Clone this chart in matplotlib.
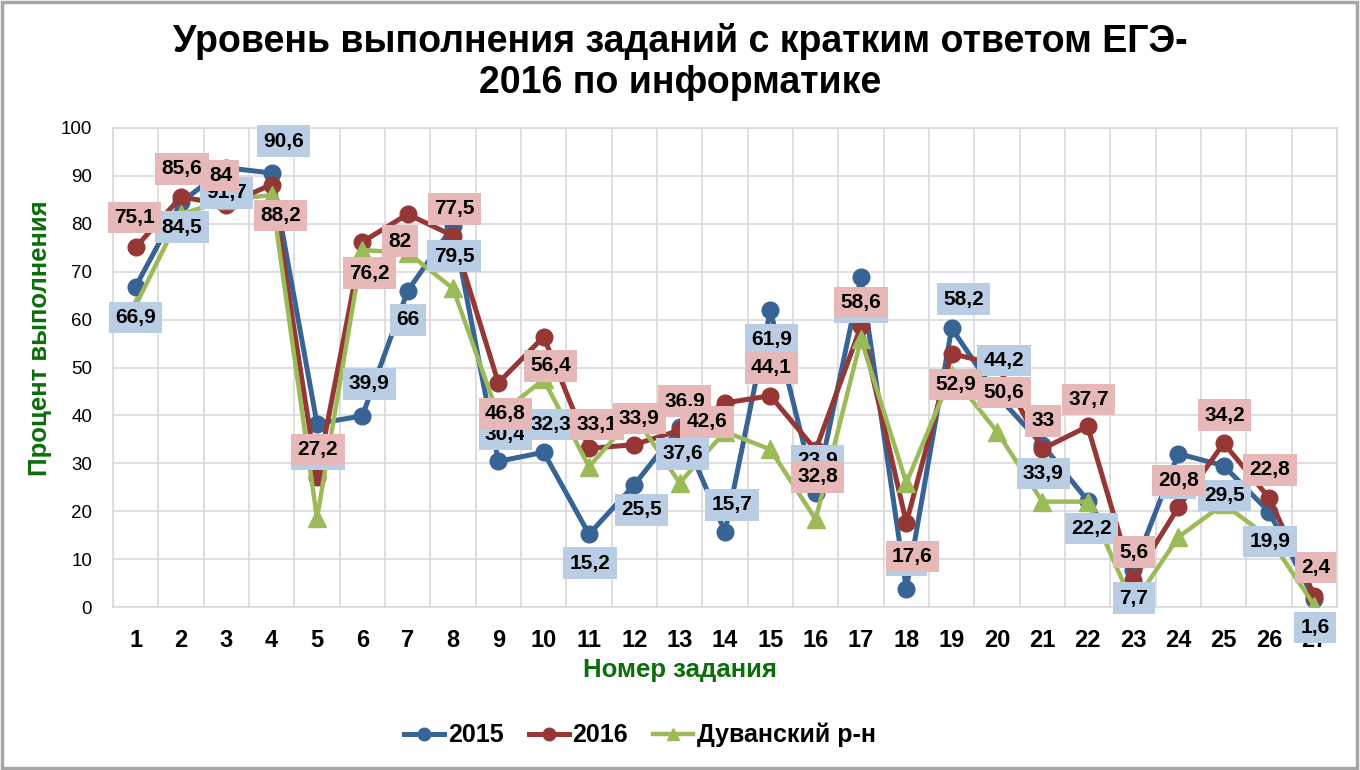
import matplotlib
matplotlib.use("Agg")
import matplotlib.pyplot as plt
from matplotlib.lines import Line2D
from matplotlib.patches import Rectangle

plt.rcParams['font.family'] = ['Liberation Sans', 'DejaVu Sans']

tasks = list(range(1, 28))
s2015 = [66.9, 84.5, 91.7, 90.6, 38.3, 39.9, 66, 79.5, 30.4, 32.3, 15.2, 25.5, 37.6, 15.7,
         61.9, 23.9, 68.8, 3.7, 58.2, 44.2, 33.9, 22.2, 7.7, 32, 29.5, 19.9, 1.6]
s2016 = [75.1, 85.6, 84, 88.2, 27.2, 76.2, 82, 77.5, 46.8, 56.4, 33.1, 33.9, 36.9, 42.6,
         44.1, 32.8, 58.6, 17.6, 52.9, 50.6, 33, 37.7, 5.6, 20.8, 34.2, 22.8, 2.4]
sduv = [63, 82, 85, 86, 18.5, 74.5, 74, 66.5, 40, 47.5, 29.3, 40, 25.9, 36.6,
        32.9, 18.3, 55.9, 25.9, 48.5, 36.6, 22, 22, 0.5, 14.6, 21.5, 14.5, 0.3]
series_names = ['2015', '2016', 'Дуванский р-н']

# label offsets in pixels (dx right, dy down)
b_off = [(0, 31), (1, 25), (0, 25), (12, -32), (1, 31), (7, -32), (0, 29), (1, 30), (7, -27),
         (7, -28), (1, 29), (7, 25), (3, 27), (7, -27), (1, 29), (2, -32), (0, 30), (0, -29),
         (12, -29), (7, -35), (1, 29), (4, 28), (1, 28), (0, 30), (1, 30), (1, 30), (1, 28)]
r_off = [(-1, -30), (1, -28), (-5, -29), (9, 31), (1, -27), (7, 31), (-8, 27), (1, -27), (7, 31),
         (7, 29), (8, -24), (5, -26), (5, -29), (-18, 19), (1, -28), (2, 27), (0, -24), (6, 34),
         (4, 31), (7, 28), (1, -28), (1, -27), (1, -28), (0, -27), (1, -28), (1, -28), (1, -28)]

c_blue = '#386395'
c_red = '#953735'
c_green = '#9BBB59'
box_blue = '#B9CDE5'
box_red = '#E6B9B8'

fig = plt.figure(figsize=(13.6, 7.7), dpi=100)
ax = fig.add_axes([113/1360, 1-607/770, 1224/1360, 479/770])

ax.plot(tasks, s2015, color=c_blue, lw=3.6, marker='o', ms=12, zorder=3)
ax.plot(tasks, s2016, color=c_red, lw=3.6, marker='o', ms=12, zorder=4)
ax.plot(tasks, sduv, color=c_green, lw=3.2, marker='^', ms=13, zorder=5)

def fmt(v):
    return f"{v:g}".replace('.', ',')

for x, v, (dx, dy) in zip(tasks, s2015, b_off):
    ax.annotate(fmt(v), (x, v), xytext=(dx, -dy), textcoords='offset pixels',
                ha='center', va='center', fontsize=15, fontweight='bold', zorder=10,
                bbox=dict(boxstyle='square,pad=0.3', fc=box_blue, ec='none'))
for x, v, (dx, dy) in zip(tasks, s2016, r_off):
    ax.annotate(fmt(v), (x, v), xytext=(dx, -dy), textcoords='offset pixels',
                ha='center', va='center', fontsize=15, fontweight='bold', zorder=11,
                bbox=dict(boxstyle='square,pad=0.3', fc=box_red, ec='none'))

ax.set_xlim(0.5, 27.5)
ax.set_ylim(0, 100)
ax.set_yticks(range(0, 101, 10))
ax.set_xticks(tasks)
ax.set_xticks([t + 0.5 for t in range(0, 28)], minor=True)
ax.tick_params(axis='both', which='both', length=0)
ax.tick_params(axis='x', pad=16, labelsize=17)
ax.tick_params(axis='y', pad=15, labelsize=13.5)
for lab in ax.get_xticklabels():
    lab.set_fontweight('bold')
ax.grid(True, which='minor', axis='x', color='#D9D9D9', lw=1.2)
ax.grid(True, which='major', axis='y', color='#D9D9D9', lw=1.2)
ax.grid(False, which='major', axis='x')
ax.set_axisbelow(True)
for sp in ax.spines.values():
    sp.set_color('#D9D9D9')
    sp.set_linewidth(1.2)

fig.text(0.5, 1-62/770, 'Уровень выполнения заданий с кратким ответом ЕГЭ-\n2016 по информатике',
         ha='center', va='center', fontsize=27, fontweight='bold', linespacing=1.15)
fig.text(40/1360, 1-338/770, 'Процент выполнения', rotation=90, ha='center', va='center',
         fontsize=18.5, fontweight='bold', color='#0A6E0A')
fig.text(680/1360, 1-670/770, 'Номер задания', ha='center', va='center',
         fontsize=18.5, fontweight='bold', color='#0A6E0A')

handles = [Line2D([], [], color=c_blue, lw=3.6, marker='o', ms=9),
           Line2D([], [], color=c_red, lw=3.6, marker='o', ms=9),
           Line2D([], [], color=c_green, lw=3.2, marker='^', ms=9)]
fig.legend(handles, series_names, loc='center', bbox_to_anchor=(640/1360, 1-735/770), ncol=3,
           frameon=False, prop={'weight': 'bold', 'size': 18}, handlelength=1.6,
           handletextpad=0.15, columnspacing=1.0)

fig.patches.append(Rectangle((0.0015, 0.002), 0.996, 0.995, transform=fig.transFigure,
                             fill=False, ec='#A6A6A6', lw=2.5))

fig.savefig('out.png', dpi=100)
